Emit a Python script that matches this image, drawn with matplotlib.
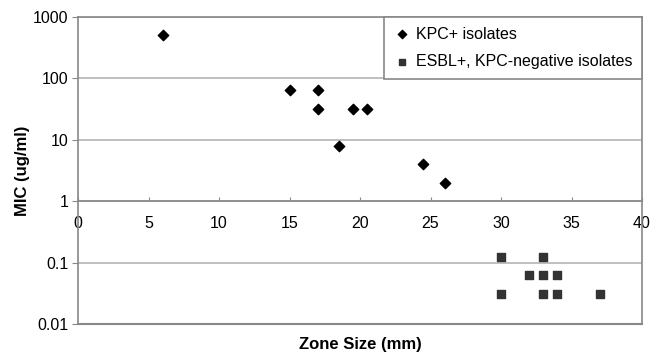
import numpy as np
import matplotlib.pyplot as plt

plt.rcParams['font.family'] = ['Liberation Sans', 'DejaVu Sans']

# KPC+ isolates
kpc_zone = [6, 15, 17, 17, 18.5, 19.5, 20.5, 24.5, 26]
kpc_mic = [512, 64, 64, 32, 8, 32, 32, 4, 2]

# ESBL+, KPC-negative isolates
esbl_zone = [30, 33, 32, 33, 34, 30, 33, 34, 37]
esbl_mic = [0.125, 0.125, 0.0625, 0.0625, 0.0625, 0.03125, 0.03125, 0.03125, 0.03125]

x_ticks = [0, 5, 10, 15, 20, 25, 30, 35, 40]
y_ticks = [0.01, 0.1, 1, 10, 100, 1000]
y_ticklabels = ['0.01', '0.1', '1', '10', '100', '1000']

fig = plt.figure(figsize=(6.5, 3.6), dpi=100)
ax = fig.add_axes([0.12, 0.1, 0.8677, 0.853])

grey = '#888888'
grid = '#b4b4b4'

ax.scatter(kpc_zone, kpc_mic, marker='D', s=28, color='black', label='KPC+ isolates', zorder=3)
ax.scatter(esbl_zone, esbl_mic, marker='s', s=32, color='#333333', label='ESBL+, KPC-negative isolates', zorder=3)

ax.set_yscale('log')
ax.set_xlim(0, 40)
ax.set_ylim(0.01, 1000)
ax.set_yticks(y_ticks)
ax.set_yticklabels(y_ticklabels)
ax.minorticks_off()
ax.set_xticks(x_ticks)
ax.set_xticklabels([str(t) for t in x_ticks])

ax.yaxis.grid(True, color=grid, linewidth=1.2)
ax.set_axisbelow(True)

for s in ['top', 'right', 'left', 'bottom']:
    ax.spines[s].set_color(grey)
    ax.spines[s].set_linewidth(1.2)
# x axis crosses at MIC = 1, frame still closes at the bottom
ax.spines['bottom'].set_position(('data', 1))
ax.axhline(0.01, color=grey, linewidth=1.5, clip_on=False, zorder=1)

ax.tick_params(axis='x', direction='in', length=3, pad=11, labelsize=11.5, color=grey)
ax.tick_params(axis='y', direction='out', length=4, pad=3, labelsize=11.5, color=grey)

ax.set_xlabel('Zone Size (mm)', fontsize=12, fontweight='bold')
ax.xaxis.label.set_va('center')
ax.xaxis.set_label_coords(0.5, -0.068)
ax.set_ylabel('MIC (ug/ml)', fontsize=12, fontweight='bold', labelpad=2)

leg = ax.legend(loc='upper right', borderaxespad=0, fancybox=False, fontsize=11.5,
                handlelength=1.1, handletextpad=0.3, labelspacing=0.8,
                borderpad=0.6, scatterpoints=1, framealpha=1, markerscale=0.8)
leg.get_frame().set_edgecolor(grey)
leg.get_frame().set_linewidth(1.2)

fig.savefig('out.png', dpi=100)
